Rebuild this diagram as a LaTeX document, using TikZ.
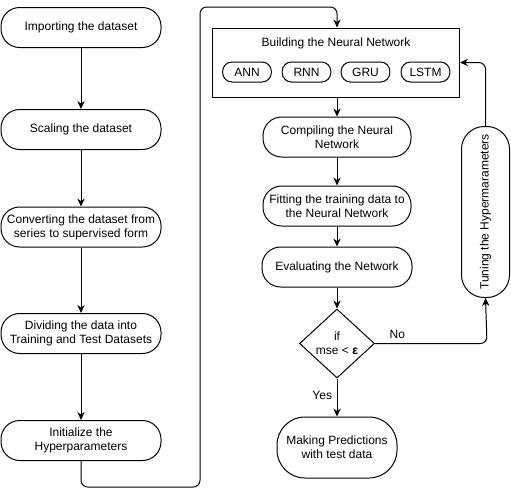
\documentclass[tikz,border=0pt]{standalone}
\usepackage{fontspec}
\setmainfont{Liberation Sans}
\usetikzlibrary{shapes.geometric}
\usetikzlibrary{positioning}
\usetikzlibrary{arrows.meta}

\begin{document}
\begin{tikzpicture}[x=0.75pt, y=-0.75pt,
    font=\fontsize{9}{10.5}\selectfont,
    stage/.style={draw, rectangle, rounded corners=14pt, align=center, minimum width=120pt, minimum height=30pt, inner sep=1pt, line width=0.75pt},
    model/.style={draw, rectangle, rounded corners=7pt, minimum width=36.5pt, minimum height=15pt, inner sep=1pt, line width=0.75pt},
    flow/.style={-{Stealth[length=6pt, width=5.5pt]}, line width=0.75pt}]
    \useasboundingbox (0,0) rectangle (511,496);
    % data preparation column
    \node[stage] (import) at (81,27.5) {Importing the dataset};
    \node[stage] (scale) at (81,129.5) {Scaling the dataset};
    \node[stage] (convert) at (81,227) {Converting the dataset from\\series to supervised form};
    \node[stage] (divide) at (81,333.5) {Dividing the data into\\Training and Test Datasets};
    \node[stage] (init) at (81,440.5) {Initialize the\\Hyperparameters};

    % model building column
    \node[draw, rectangle, minimum width=185.25pt, minimum height=51.75pt, line width=0.75pt] (build) at (336,62.5) {};
    \node (buildtitle) at (336,43) {Building the Neural Network};
    \node[model] (ann) at (247,72) {ANN};
    \node[model] (rnn) at (306.5,72) {RNN};
    \node[model] (gru) at (365.5,72) {GRU};
    \node[model] (lstm) at (425.5,72) {LSTM};

    \node[stage, minimum width=111pt] (compile) at (337,137) {Compiling the Neural\\Network};
    \node[stage, minimum width=111pt] (fit) at (337,206) {Fitting the training data to\\the Neural Network};
    \node[stage, minimum width=112.5pt] (evaluate) at (337,267) {Evaluating the Network};
    \node[draw, diamond, aspect=1.1, inner sep=0pt, minimum width=56.25pt, minimum height=51.75pt, align=center, line width=0.75pt] (check) at (337,343.5) {if\\mse < {\bfseries ε}};
    \node[stage, minimum width=90pt, minimum height=45.75pt, rounded corners=21pt] (predict) at (337,447.5) {Making Predictions\\with test data};
    \node[stage, rotate=90, minimum width=128.25pt, minimum height=36pt, rounded corners=17pt] (tune) at (485.5,212) {Tuning the Hypermarameters};

    \coordinate (lowturn) at (200,487);
    \coordinate (topturn) at (200,7);

    \draw[flow] (import) -- (scale);
    \draw[flow] (scale) -- (convert);
    \draw[flow] (convert) -- (divide);
    \draw[flow] (divide) -- (init);
    \draw[flow, rounded corners=5pt] (init.south) |- (lowturn) -- (topturn) -| (build.north -| compile);

    \draw[flow] (build.south -| compile) -- (compile);
    \draw[flow] (compile) -- (fit);
    \draw[flow] (fit) -- (evaluate);
    \draw[flow] (evaluate) -- (check);
    \draw[flow] (check) -- node[left, pos=0.45] {Yes} (predict);
    \draw[flow, rounded corners=5pt] (check.east) -- node[above, pos=0.2] {No} ++(112,0) -- (tune.west);
    \draw[flow, rounded corners=5pt] (tune.east) |- (build.east);
\end{tikzpicture}
\end{document}
